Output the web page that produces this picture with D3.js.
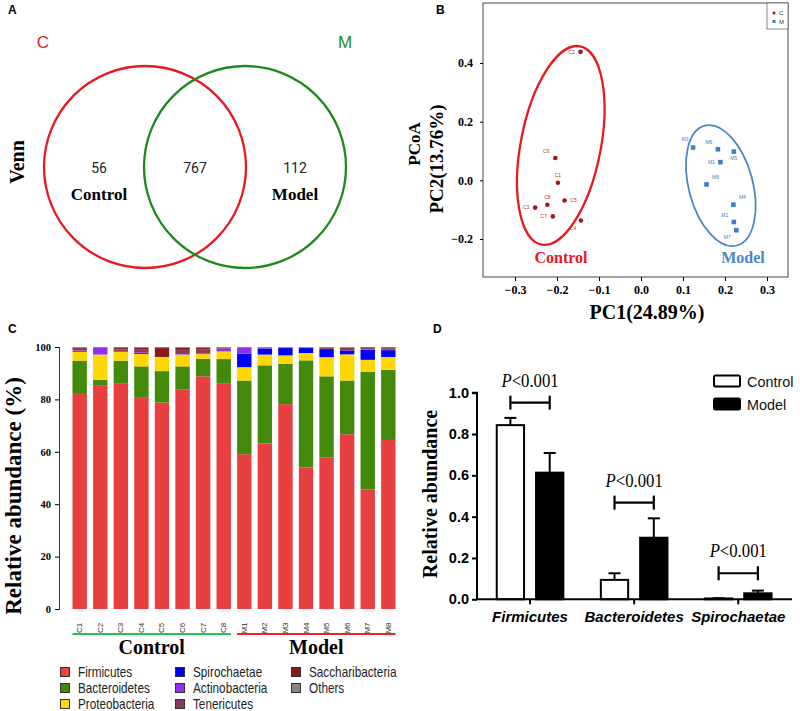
<!DOCTYPE html>
<html><head><meta charset="utf-8">
<script src="https://cdn.jsdelivr.net/npm/d3@7/dist/d3.min.js"></script>
<style>body{margin:0;background:#fff} svg{display:block}</style>
</head><body><svg id="c" width="800" height="711"></svg>
<script>
// ---------- Panel A: Venn ----------
const vennSets = ["C", "M"];
const vennGroups = ["Control", "Model"];
const vennCounts = [56, 767, 112]; // C only, shared, M only

// ---------- Panel B: PCoA ----------
const ctrlLabels = ["C1","C2","C3","C4","C5","C6","C7","C8"];
const ctrlPC1 = [-0.198,-0.144,-0.252,-0.143,-0.182,-0.204,-0.210,-0.223];
const ctrlPC2 = [-0.008, 0.438,-0.093,-0.137,-0.069, 0.076,-0.123,-0.083];
const modelLabels = ["M1","M2","M3","M4","M5","M6","M7","M8"];
const modelPC1 = [0.189,0.221,0.124,0.220,0.221,0.183,0.227,0.156];
const modelPC2 = [0.062,-0.142,0.112,-0.083,0.098,0.106,-0.170,-0.014];
const pcoaXTicks = [-0.3,-0.2,-0.1,0.0,0.1,0.2,0.3];
const pcoaYTicks = [-0.2,0.0,0.2,0.4];
const ellipseCenterPC1 = [-0.191, 0.190];
const ellipseCenterPC2 = [0.119, -0.018];

// ---------- Panel C: stacked composition ----------
const samples = ["C1","C2","C3","C4","C5","C6","C7","C8","M1","M2","M3","M4","M5","M6","M7","M8"];
const phyla = ["Firmicutes","Bacteroidetes","Proteobacteria","Spirochaetae","Actinobacteria","Tenericutes","Saccharibacteria","Others"];
const firmicutes     = [82.1,85.2,86.2,80.6,78.8,83.7,88.8,86.2,59.1,63.2,78.2,54.0,57.9,66.7,45.6,64.5];
const bacteroidetes  = [12.7,2.3,8.6,12.0,12.0,8.9,6.7,9.2,28.1,29.8,15.4,40.9,30.9,20.5,44.9,26.8];
const proteobacteria = [3.3,9.6,3.3,4.8,5.4,4.5,1.8,2.9,5.1,4.1,3.2,2.8,7.3,10.0,4.6,4.9];
const spirochaetae   = [0,0,0,0.3,0,0,0,0,5.1,2.3,2.8,1.9,3.1,1.5,3.8,2.6];
const actinobacteria = [0.6,2.8,0.3,0.3,0,0.2,0.3,1.0,2.3,0.2,0.1,0.1,0.1,0.1,0.2,0.1];
const tenericutes    = [0.6,0,0.7,1.2,0,1.6,1.4,0.2,0,0.2,0.1,0.1,0.4,0.5,0.5,0.5];
const saccharibacteria=[0.4,0,0.5,0.5,3.4,0.8,0.8,0.3,0.2,0.1,0.1,0.1,0.2,0.4,0.3,0.5];
const others         = [0.3,0.1,0.4,0.3,0.4,0.3,0.2,0.2,0.1,0.1,0.1,0.1,0.1,0.3,0.1,0.1];
const compTicks = [0,20,40,60,80,100];
const groupNames = ["Control","Model"];

// ---------- Panel D: bar chart ----------
const taxa = ["Firmicutes","Bacteroidetes","Spirochaetae"];
const controlMean = [0.843,0.094,0.004];
const controlErr  = [0.035,0.032,0.001];
const modelMean   = [0.613,0.298,0.029];
const modelErr    = [0.095,0.094,0.013];
const pText = ["<0.001","<0.001","<0.001"];
const bracketLevel = [0.952,0.468,0.126];
const barTicks = [0.0,0.2,0.4,0.6,0.8,1.0];

const svg = d3.select("#c");
const SERIF = "'Liberation Serif','Times New Roman',serif";
const SANS = "'Liberation Sans',Arial,sans-serif";

// panel letters
[["A",8,14],["B",436,14],["C",8,333],["D",433,333]].forEach(([t,x,y])=>{
  svg.append("text").attr("x",x).attr("y",y).text(t)
    .attr("font-family",SANS).attr("font-weight","bold").attr("font-size",12);
});

// ===== Panel A =====
{
  const g = svg.append("g");
  const vx = d3.scalePoint().domain(vennSets).range([145,245]);
  const cy = 167, r = 101;
  const col = {C:"#e8191f", M:"#1e8a1e"};
  vennSets.forEach(s=>{
    g.append("circle").attr("cx",vx(s)).attr("cy",cy).attr("r",r)
      .attr("fill","none").attr("stroke",col[s]).attr("stroke-width",2.3);
  });
  g.append("text").attr("x",43).attr("y",48).attr("text-anchor","middle").text(vennSets[0])
    .attr("fill",col.C).attr("font-family",SANS).attr("font-size",17);
  g.append("text").attr("x",345).attr("y",48).attr("text-anchor","middle").text(vennSets[1])
    .attr("fill",col.M).attr("font-family",SANS).attr("font-size",17);
  const numX = [99,195,295];
  vennCounts.forEach((n,i)=>{
    g.append("text").attr("x",numX[i]).attr("y",173).attr("text-anchor","middle").text(n)
      .attr("font-family","Roboto,"+SANS).attr("font-size",14).attr("fill","#222");
  });
  g.append("text").attr("x",99).attr("y",200).attr("text-anchor","middle").text(vennGroups[0])
    .attr("font-family",SERIF).attr("font-weight","bold").attr("font-size",17);
  g.append("text").attr("x",295).attr("y",200).attr("text-anchor","middle").text(vennGroups[1])
    .attr("font-family",SERIF).attr("font-weight","bold").attr("font-size",17);
  g.append("text").attr("transform","translate(24,162) rotate(-90)").attr("text-anchor","middle")
    .text("Venn").attr("font-family",SERIF).attr("font-weight","bold").attr("font-size",20);
}

// ===== Panel B =====
{
  const g = svg.append("g");
  const x = d3.scaleLinear().domain([-0.3,0.3]).range([515,767]);
  const y = d3.scaleLinear().domain([-0.2,0.4]).range([239,63]);
  const fx0=483, fx1=788, fy0=3, fy1=277;
  g.append("rect").attr("x",fx0).attr("y",fy0).attr("width",fx1-fx0).attr("height",fy1-fy0)
    .attr("fill","none").attr("stroke","#444").attr("stroke-width",1);
  const xa = g.append("g").attr("transform",`translate(0,${fy1})`)
    .call(d3.axisBottom(x).tickValues(pcoaXTicks).tickSize(4).tickFormat(d3.format(".1f")));
  xa.select(".domain").remove();
  xa.selectAll("text").attr("font-family",SERIF).attr("font-weight","bold").attr("font-size",12).attr("y",12).attr("dy","0.4em");
  const ya = g.append("g").attr("transform",`translate(${fx0},0)`)
    .call(d3.axisLeft(y).tickValues(pcoaYTicks).tickSize(3).tickFormat(d3.format(".1f")));
  ya.select(".domain").remove();
  ya.selectAll("text").attr("font-family",SERIF).attr("font-weight","bold").attr("font-size",12).attr("x",-10);
  g.append("text").attr("x",647).attr("y",319).attr("text-anchor","middle").text("PC1(24.89%)")
    .attr("font-family",SERIF).attr("font-weight","bold").attr("font-size",20);
  g.append("text").attr("transform","translate(443,159) rotate(-90)").attr("text-anchor","middle")
    .text("PC2(13.76%)").attr("font-family",SERIF).attr("font-weight","bold").attr("font-size",19);
  g.append("text").attr("transform","translate(420,144) rotate(-90)").attr("text-anchor","middle")
    .text("PCoA").attr("font-family",SERIF).attr("font-weight","bold").attr("font-size",17);

  // ellipses
  const ellStyle = [{a:101,b:40,rot:11,c:"#e8191f",w:2.3},{a:62,b:32,rot:-15,c:"#4a86c8",w:1.8}];
  ellStyle.forEach((e,i)=>{
    g.append("ellipse").attr("transform",`translate(${x(ellipseCenterPC1[i])},${y(ellipseCenterPC2[i])}) rotate(${e.rot})`)
      .attr("rx",e.b).attr("ry",e.a).attr("fill","none").attr("stroke",e.c).attr("stroke-width",e.w);
  });

  const cOff = {C1:[0,-7],C2:[-9,0],C3:[-9,0],C4:[-8,8],C5:[9,0],C6:[-9,-7],C7:[-9,0],C8:[0,-7]};
  const mOff = {M1:[-9,0],M2:[-9,-7],M3:[-8,-8],M4:[9,-7],M5:[0,7],M6:[-9,-7],M7:[-9,7],M8:[9,-7]};
  const cCol = "#a3161a", mCol = "#3d7fc4";
  ctrlLabels.forEach((lab,i)=>{
    const px=x(ctrlPC1[i]), py=y(ctrlPC2[i]);
    g.append("circle").attr("cx",px).attr("cy",py).attr("r",2.3).attr("fill",cCol);
    g.append("text").attr("x",px+cOff[lab][0]).attr("y",py+cOff[lab][1]).attr("dy","0.35em")
      .attr("text-anchor","middle").text(lab).attr("font-family",SANS).attr("font-size",5).attr("fill","#c0392b");
  });
  modelLabels.forEach((lab,i)=>{
    const px=x(modelPC1[i]), py=y(modelPC2[i]);
    g.append("rect").attr("x",px-2.3).attr("y",py-2.3).attr("width",4.6).attr("height",4.6).attr("fill",mCol);
    g.append("text").attr("x",px+mOff[lab][0]).attr("y",py+mOff[lab][1]).attr("dy","0.35em")
      .attr("text-anchor","middle").text(lab).attr("font-family",SANS).attr("font-size",5).attr("fill",mCol);
  });
  g.append("text").attr("x",561).attr("y",263).attr("text-anchor","middle").text(groupNames[0])
    .attr("fill","#e8191f").attr("font-family",SERIF).attr("font-weight","bold").attr("font-size",16);
  g.append("text").attr("x",743).attr("y",263).attr("text-anchor","middle").text(groupNames[1])
    .attr("fill","#4a86c8").attr("font-family",SERIF).attr("font-weight","bold").attr("font-size",16);
  // legend
  g.append("rect").attr("x",767).attr("y",3).attr("width",21).attr("height",26).attr("fill","#fff").attr("stroke","#555").attr("stroke-width",0.7);
  g.append("circle").attr("cx",774).attr("cy",13).attr("r",1.5).attr("fill",cCol);
  g.append("text").attr("x",779).attr("y",15).text("C").attr("font-family",SANS).attr("font-size",6).attr("fill","#333");
  g.append("rect").attr("x",772.5).attr("y",20).attr("width",3).attr("height",3).attr("fill",mCol);
  g.append("text").attr("x",779).attr("y",23.5).text("M").attr("font-family",SANS).attr("font-size",6).attr("fill","#333");
}

// ===== Panel C =====
{
  const g = svg.append("g");
  const series = [firmicutes,bacteroidetes,proteobacteria,spirochaetae,actinobacteria,tenericutes,saccharibacteria,others];
  const colors = ["#e84040","#438a0a","#ffd700","#0000f5","#9030f0","#8b3a62","#8b1a1a","#8b8378"];
  const rows = samples.map((s,i)=>{ const o={sample:s}; phyla.forEach((p,k)=>o[p]=series[k][i]); return o; });
  const stack = d3.stack().keys(phyla)(rows);
  const x = d3.scaleBand().domain(samples).range([69.4,398.6]).paddingInner(0.3).paddingOuter(0.15);
  const y = d3.scaleLinear().domain([0,100]).range([609,347]);
  stack.forEach((layer,k)=>{
    g.append("g").attr("fill",colors[k]).selectAll("rect").data(layer).join("rect")
      .attr("x",d=>x(d.data.sample)).attr("width",x.bandwidth())
      .attr("y",d=>y(d[1])).attr("height",d=>Math.max(0,y(d[0])-y(d[1])));
  });
  const ya = g.append("g").attr("transform","translate(59,0)")
    .call(d3.axisLeft(y).tickValues(compTicks).tickSize(4));
  ya.select(".domain").attr("stroke","#333");
  ya.selectAll("text").attr("font-family",SERIF).attr("font-weight","bold").attr("font-size",10.5).attr("x",-8);
  g.append("text").attr("transform","translate(21,496) rotate(-90)").attr("text-anchor","middle")
    .text("Relative abundance (%)").attr("font-family",SERIF).attr("font-weight","bold").attr("font-size",23);
  samples.forEach(s=>{
    g.append("text").attr("transform",`translate(${x(s)+x.bandwidth()/2+2.5},628) rotate(-90)`)
      .attr("text-anchor","middle").text(s).attr("font-family",SANS).attr("font-size",8).attr("fill","#333");
  });
  const grp = [[0,7,"#2bbf5a"],[8,15,"#e8262a"]];
  grp.forEach(([a,b,c],i)=>{
    const x0=x(samples[a]), x1=x(samples[b])+x.bandwidth();
    g.append("line").attr("x1",x0).attr("x2",x1).attr("y1",634).attr("y2",634).attr("stroke",c).attr("stroke-width",2.2);
    g.append("text").attr("x",(x0+x1)/2).attr("y",654).attr("text-anchor","middle").text(groupNames[i])
      .attr("font-family",SERIF).attr("font-weight","bold").attr("font-size",20);
  });
  const colX = [65,180,296], rowY = [672,688,704];
  phyla.forEach((p,k)=>{
    const cx = colX[Math.floor(k/3)], cy = rowY[k%3];
    g.append("rect").attr("x",cx-4.5).attr("y",cy-4.5).attr("width",9).attr("height",9)
      .attr("fill",colors[k]).attr("stroke","#333").attr("stroke-width",1);
    g.append("text").attr("transform",`translate(${cx+13},${cy}) scale(0.84,1)`).attr("dy","0.36em").text(p)
      .attr("font-family",SANS).attr("font-size",14).attr("fill","#222");
  });
}

// ===== Panel D =====
{
  const g = svg.append("g");
  const x = d3.scaleBand().domain(taxa).range([478,790.3]);
  const y = d3.scaleLinear().domain([0,1]).range([599.3,392.7]);
  const bw = 27.3, off = [-33.3, 6];
  const ax = 477;
  const means=[controlMean,modelMean], errs=[controlErr,modelErr];
  taxa.forEach((t,i)=>{
    const c = x(t)+x.bandwidth()/2;
    [0,1].forEach(k=>{
      const bx = c+off[k];
      const top = y(means[k][i]), etop = y(means[k][i]+errs[k][i]);
      g.append("line").attr("x1",bx+bw/2).attr("x2",bx+bw/2).attr("y1",top).attr("y2",etop).attr("stroke","#000").attr("stroke-width",2);
      g.append("line").attr("x1",bx+bw/2-6).attr("x2",bx+bw/2+6).attr("y1",etop).attr("y2",etop).attr("stroke","#000").attr("stroke-width",2);
      g.append("rect").attr("x",bx).attr("y",top).attr("width",bw).attr("height",Math.max(0.5,y(0)-top))
        .attr("fill",k===0?"#fff":"#000").attr("stroke","#000").attr("stroke-width",2);
    });
    const b0 = c+off[0]+bw/2, b1 = c+off[1]+bw/2, by = y(bracketLevel[i]);
    g.append("line").attr("x1",b0).attr("x2",b1).attr("y1",by).attr("y2",by).attr("stroke","#000").attr("stroke-width",2.2);
    [b0,b1].forEach(bx=>g.append("line").attr("x1",bx).attr("x2",bx).attr("y1",by-7).attr("y2",by+7).attr("stroke","#000").attr("stroke-width",2.2));
    const tx = g.append("text").attr("transform",`translate(${(b0+b1)/2},${by-16}) scale(0.88,1)`).attr("text-anchor","middle")
      .attr("font-family",SERIF).attr("font-size",19);
    tx.append("tspan").attr("font-style","italic").text("P");
    tx.append("tspan").text(pText[i]);
  });
  g.append("line").attr("x1",ax).attr("x2",792).attr("y1",y(0)).attr("y2",y(0)).attr("stroke","#000").attr("stroke-width",2);
  taxa.forEach(t=>{
    const c = x(t)+x.bandwidth()/2;
    g.append("line").attr("x1",c).attr("x2",c).attr("y1",y(0)).attr("y2",y(0)+5).attr("stroke","#000").attr("stroke-width",2);
    g.append("text").attr("x",c).attr("y",622).attr("text-anchor","middle").text(t)
      .attr("font-family",SANS).attr("font-weight","bold").attr("font-style","italic").attr("font-size",15);
  });
  const ya = g.append("g").attr("transform",`translate(${ax},0)`)
    .call(d3.axisLeft(y).tickValues(barTicks).tickSize(5).tickFormat(d3.format(".1f")));
  ya.select(".domain").attr("stroke-width",2).attr("d",`M-5,${y(1)}H0V${y(0)}`);
  ya.selectAll(".tick line").attr("stroke-width",2);
  ya.selectAll("text").attr("font-family",SANS).attr("font-weight","bold").attr("font-size",14.5).attr("x",-8);
  g.append("text").attr("transform","translate(437,494) rotate(-90)").attr("text-anchor","middle")
    .text("Relative abundance").attr("font-family",SERIF).attr("font-weight","bold").attr("font-size",20);
  const leg = [["Control","#fff",381],["Model","#000",404]];
  leg.forEach(([t,f,ly])=>{
    g.append("rect").attr("x",714).attr("y",ly-5.5).attr("width",26).attr("height",11).attr("rx",1.5)
      .attr("fill",f).attr("stroke","#000").attr("stroke-width",2);
    g.append("text").attr("transform",`translate(747,${ly}) scale(0.93,1)`).attr("dy","0.36em").text(t)
      .attr("font-family",SANS).attr("font-size",15.5).attr("fill","#111");
  });
}
</script></body></html>
